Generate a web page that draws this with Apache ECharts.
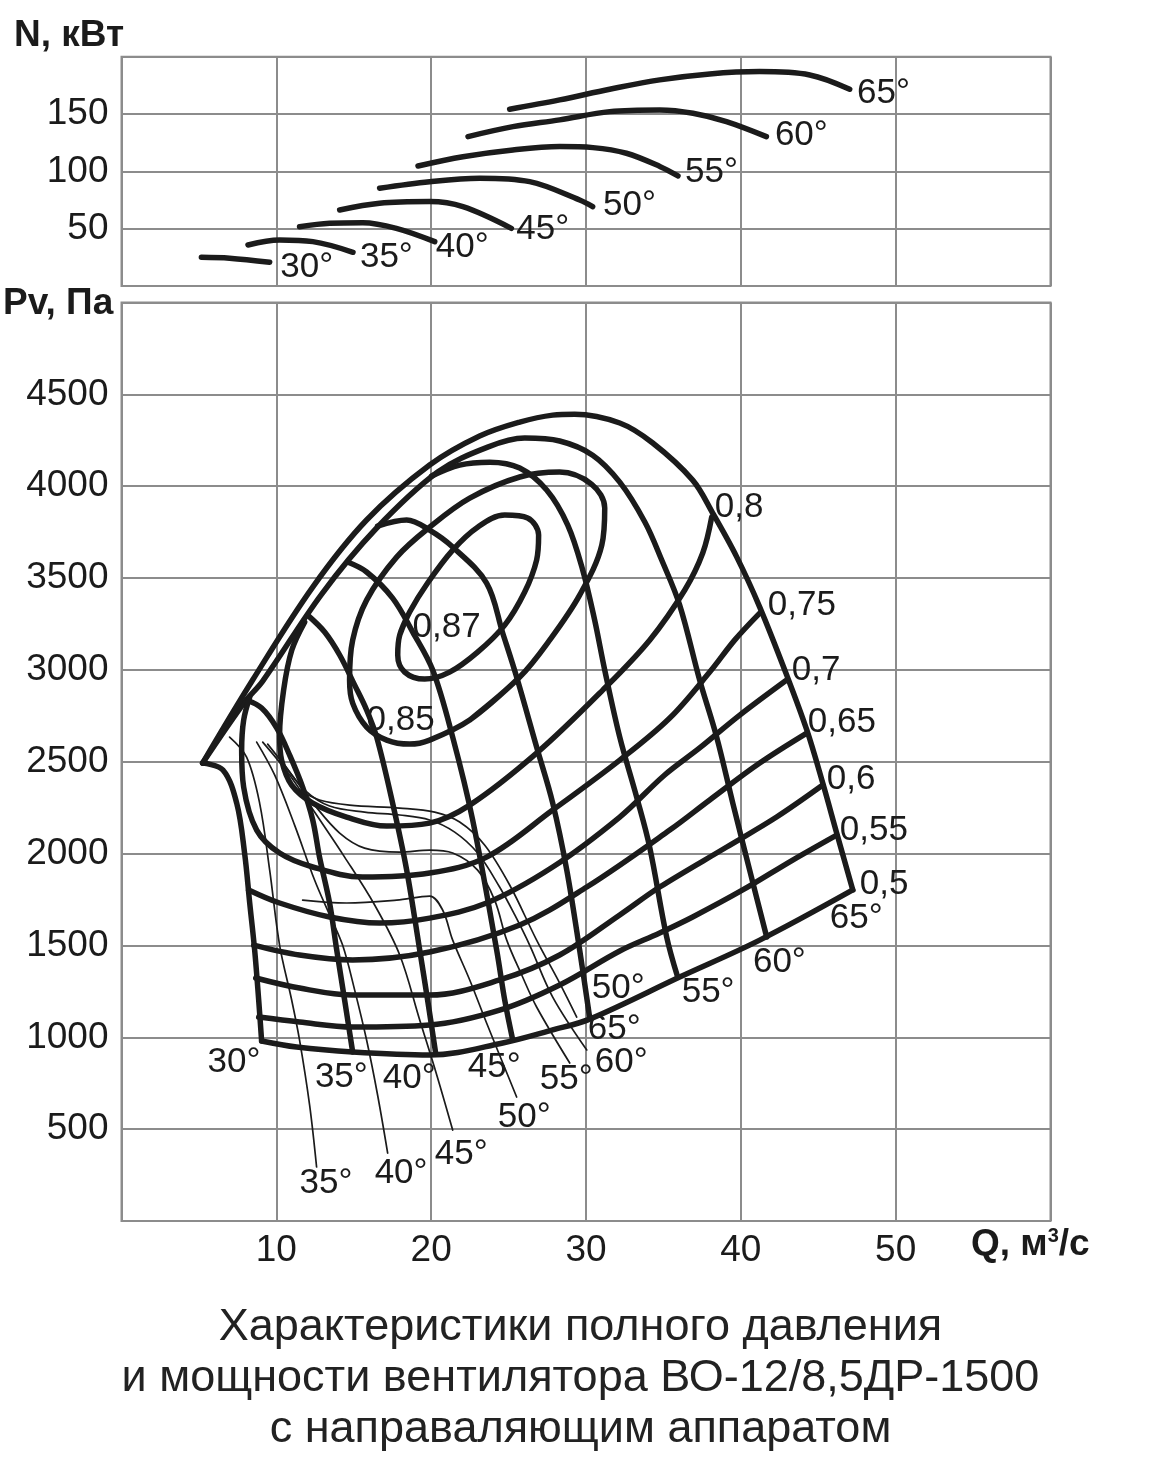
<!DOCTYPE html>
<html><head><meta charset="utf-8">
<script src="https://cdn.jsdelivr.net/npm/echarts@6/dist/echarts.min.js"></script>
<style>html,body{margin:0;padding:0;background:#fff}#c{width:1161px;height:1484px}</style>
</head><body><div id="c"></div>
<script>
// ---- axes ----
const qRange = [0, 60];
const nRange = [0, 200];
const pRange = [0, 5000];
const titleLines = ['Характеристики полного давления', 'и мощности вентилятора ВО-12/8,5ДР-1500', 'с направаляющим аппаратом'];

// ---- power curves N(Q), kW, by blade angle ----
const pow30 = [[5.16,25.0],[6.98,24.2],[9.57,20.7]];
const pow35 = [[8.17,35.8],[10.21,40.1],[12.36,38.7],[14.95,29.4]];
const pow40 = [[11.5,51.7],[13.44,54.7],[15.59,55.2],[17.75,50.3],[20.23,38.7]];
const pow45 = [[14.09,66.3],[16.67,72.2],[19.9,73.6],[22.05,69.2],[25.18,50.3]];
const pow50 = [[16.67,85.3],[19.9,91.0],[23.13,94.0],[26.36,91.0],[29.59,75.0],[30.43,69.2]];
const pow55 = [[19.15,104.7],[22.05,112.8],[25.28,118.7],[28.3,121.6],[30.45,120.7],[32.61,115.8],[34.8,104.1],[35.94,96.0]];
const pow60 = [[22.38,130.3],[25.28,139.0],[28.3,144.9],[31.53,152.1],[34.76,153.6],[36.91,150.7],[39.07,143.4],[41.65,130.3]];
const pow65 = [[25.07,154.2],[28.3,162.3],[31.53,171.6],[34.76,179.8],[37.99,185.0],[41.2,187.0],[44.45,184.1],[47.03,171.6]];
const powLabels = [['30°',10.25,16.6],['35°',15.4,25.0],['40°',20.3,34.0],['45°',25.5,49.7],['50°',31.1,70.7],['55°',36.4,99.5],['60°',42.2,131.8],['65°',47.5,168.4]];

// ---- total pressure curves Pv(Q), Pa, by blade angle ----
const pres30 = [[5.24,2493],[6.55,2455],[7.44,2275],[7.95,2003],[8.28,1731],[8.6,1475],[8.86,1203],[9.05,980]];
const pres35 = [[8.08,2836],[9.05,2792],[10.03,2683],[10.86,2536],[11.7,2362],[12.35,2183],[12.79,1981],[13.44,1731],[13.9,1475],[14.41,1203],[14.93,920]];
const pres40 = [[12.02,3298],[13.12,3206],[14.09,3081],[15.06,2917],[15.83,2782],[16.48,2634],[17.51,2275],[18.42,1910],[19.26,1475],[19.77,1203],[20.29,914]];
const pres45 = [[14.6,3587],[15.83,3533],[17.51,3391],[18.81,3206],[20.1,2999],[21.39,2634],[22.68,2183],[24.23,1475],[24.75,1203],[25.27,985]];
const pres50 = [[16.54,3783],[18.42,3816],[19.9,3761],[21.39,3669],[23.58,3473],[24.62,3201],[25.52,2961],[26.81,2580],[27.85,2275],[28.76,1910],[29.59,1475],[30.24,1105]];
const pres55 = [[20.03,4055],[21.84,4115],[23.78,4131],[25.72,4099],[27.46,3979],[28.82,3788],[29.79,3543],[30.56,3271],[31.21,2999],[32.18,2634],[33.27,2308],[34.11,2036],[35.21,1546],[35.92,1328]];
const pres60 = [[5.24,2493],[7.95,2825],[9.12,2939],[12.93,3413],[16.42,3767],[20.42,4077],[23.65,4213],[26.04,4262],[28.3,4246],[30.43,4169],[32.18,4022],[33.8,3805],[34.89,3598],[36.05,3353],[37.34,2945],[38.44,2634],[39.48,2275],[40.57,1910],[41.67,1546]];
const pres65 = [[5.24,2493],[8.47,2945],[12.35,3451],[15.83,3816],[19.9,4115],[23.13,4273],[25.72,4349],[27.85,4387],[29.27,4392],[32.18,4344],[34.31,4235],[36.89,4033],[38.18,3854],[39.74,3614],[41.22,3342],[42.96,2972],[44.26,2673],[45.29,2384],[46.19,2112],[47.23,1802]];

// ---- thin pressure curves (stall branch), by blade angle ----
const thin35 = [[6.98,2634],[8.08,2525],[8.92,2275],[9.57,1910],[10.21,1502],[10.99,1203],[11.5,985],[12.15,631],[12.6,294]];
const thin40 = [[8.73,2607],[9.89,2428],[11.18,2155],[12.47,1856],[13.44,1666],[14.28,1502],[15.06,1257],[15.83,985],[16.54,686],[17.19,370]];
const thin45 = [[9.12,2607],[10.86,2428],[12.47,2226],[14.41,1981],[16.35,1720],[17.97,1448],[19.26,1094],[20.36,795],[21.39,495]];
const thin50 = [[11.7,1747],[14.54,1731],[17.77,1747],[19.9,1769],[20.74,1693],[21.39,1529],[22.49,1312],[23.58,1078],[25.52,675]];
const thin55 = [[9.44,2596],[10.86,2444],[12.47,2264],[14.09,2112],[15.7,2030],[17.97,2008],[19.9,2019],[21.39,2003],[23.0,1910],[24.1,1747],[24.88,1529],[25.85,1339],[26.81,1165],[28.95,860]];
const thin60 = [[10.54,2482],[11.83,2346],[13.44,2259],[15.7,2226],[17.97,2210],[19.9,2183],[21.52,2117],[23.0,2003],[24.42,1818],[25.4,1666],[26.36,1502],[27.85,1219],[30.05,931]];
const thin65 = [[11.5,2346],[12.79,2292],[14.73,2264],[17.97,2248],[20.23,2226],[21.84,2172],[23.45,2047],[25.07,1829],[26.81,1529],[28.3,1295],[29.4,1110]];

// ---- efficiency lines ----
const eff50 = [[9.05,980],[11.31,947],[14.93,920],[19.9,904],[24.62,969],[27.85,1040],[30.24,1099],[36.05,1328],[41.22,1529],[47.23,1802]];
const eff55 = [[8.86,1110],[11.5,1083],[14.93,1056],[19.9,1067],[24.42,1148],[28.3,1285],[32.18,1470],[34.76,1568],[36.89,1655],[40.12,1802],[43.35,1965],[46.19,2101]];
const eff60 = [[8.67,1323],[11.5,1268],[14.93,1230],[19.9,1230],[24.42,1312],[28.3,1448],[32.18,1666],[34.76,1818],[39.09,2036],[42.31,2199],[45.29,2373]];
const eff65 = [[8.54,1502],[11.5,1448],[14.93,1421],[19.9,1464],[25.72,1611],[30.05,1818],[35.41,2128],[37.99,2292],[41.22,2493],[44.26,2656]];
const eff70 = [[8.21,1802],[10.21,1731],[13.44,1655],[16.67,1622],[19.9,1649],[23.58,1731],[27.85,1927],[32.18,2199],[35.08,2428],[37.34,2575],[39.93,2754],[42.96,2945]];
const eff75 = [[8.28,2852],[7.89,2727],[7.76,2564],[7.89,2362],[8.73,2128],[10.21,2003],[12.35,1927],[15.57,1872],[19.9,1894],[23.58,1981],[27.85,2237],[32.18,2509],[35.41,2738],[37.99,2988],[39.6,3162],[41.22,3309]];
const eff80 = [[11.83,3260],[11.0,3108],[10.47,2890],[10.21,2645],[10.34,2509],[10.99,2373],[12.35,2275],[14.54,2199],[17.13,2150],[19.9,2166],[22.49,2264],[26.81,2547],[31.08,2890],[34.11,3162],[36.38,3435],[37.54,3636],[38.12,3832]];
const eff85 = [[25.72,2961],[22.49,2727],[19.9,2618],[18.61,2596],[17.13,2618],[15.83,2689],[14.93,2819],[14.73,2945],[14.93,3162],[15.83,3380],[17.77,3614],[19.9,3777],[22.49,3935],[25.72,4050],[28.3,4077],[30.37,4010],[31.21,3881],[31.02,3679],[29.59,3407],[27.65,3162],[25.72,2961],[22.49,2727]];
const eff87 = [[17.97,3190],[18.61,3315],[19.77,3473],[21.39,3652],[23.0,3777],[24.75,3843],[26.23,3827],[26.94,3734],[26.81,3598],[26.04,3424],[24.75,3244],[23.0,3097],[21.19,2988],[19.58,2950],[18.29,2988],[17.84,3081],[17.97,3190],[18.61,3315]];

const effLabels = [['0,87',18.8,3233],['0,85',15.83,2727],['0,8',38.32,3886],['0,75',41.74,3353],['0,7',43.29,2999],['0,65',44.32,2716],['0,6',45.55,2406],['0,55',46.39,2128],['0,5',47.68,1834]];
const angLabels = [['30°',5.56,865],['35°',12.49,784],['40°',16.87,778],['45°',22.36,838],['50°',30.37,1268],['55°',36.18,1246],['60°',40.78,1410],['65°',45.74,1649]];
const thinLabels = [['65°',30.11,1045],['60°',30.57,865],['55°',27.01,773],['50°',24.3,566],['45°',20.23,365],['40°',16.35,261],['35°',11.5,207]];

const LINE = '#1b1b1b';
const GRID = '#8c8c8c';
const FONT = "'Liberation Sans', Arial, sans-serif";

function curve(data, gi, w) {
  return {type:'line', xAxisIndex:gi, yAxisIndex:gi, data:data, smooth:0.35, showSymbol:false, symbol:'none',
    lineStyle:{color:LINE, width:w, cap:'round', join:'round'}, silent:true, z:3};
}
function labels(arr, gi) {
  return {type:'scatter', xAxisIndex:gi, yAxisIndex:gi, symbolSize:0, silent:true, z:5,
    itemStyle:{opacity:1, color:LINE},
    data: arr.map(a => ({name:a[0], value:[a[1], a[2]]})),
    label:{show:true, opacity:1, position:'right', distance:0, formatter:'{b}', color:LINE, fontFamily:FONT, fontSize:35}};
}

const chart = echarts.init(document.getElementById('c'), null, {renderer:'canvas'});
const axisCommon = {
  axisLine:{show:false}, axisTick:{show:false},
  splitLine:{show:true, lineStyle:{color:GRID, width:2}}
};
const tickFont = {color:LINE, fontFamily:FONT, fontSize:37};
const thick = 5.5, thin = 1.7;
chart.setOption({
  animation:false,
  backgroundColor:'#fff',
  grid:[
    {left:121.5, top:56.7, width:929, height:229.3, show:true, borderColor:GRID, borderWidth:2},
    {left:121.5, top:302.5, width:929, height:918.5, show:true, borderColor:GRID, borderWidth:2}
  ],
  xAxis:[
    Object.assign({type:'value', gridIndex:0, min:qRange[0], max:qRange[1], interval:10, axisLabel:{show:false}}, axisCommon),
    Object.assign({type:'value', gridIndex:1, min:qRange[0], max:qRange[1], interval:10,
      axisLabel:Object.assign({show:true, margin:11, formatter: v => (v>0 && v<60) ? String(v) : ''}, tickFont)}, axisCommon)
  ],
  yAxis:[
    Object.assign({type:'value', gridIndex:0, min:nRange[0], max:nRange[1], interval:50,
      axisLabel:Object.assign({show:true, margin:13, formatter: v => (v>0 && v<200) ? String(v) : ''}, tickFont)}, axisCommon),
    Object.assign({type:'value', gridIndex:1, min:pRange[0], max:pRange[1], interval:500,
      axisLabel:Object.assign({show:true, margin:13, formatter: v => (v>0 && v<5000) ? String(v) : ''}, tickFont)}, axisCommon)
  ],
  graphic:[
    {type:'text', left:14, top:17, style:{text:'N, кВт', font:"bold 37px 'Liberation Sans', Arial", fill:LINE}},
    {type:'text', left:3, top:285, style:{text:'Pv, Па', font:"bold 37px 'Liberation Sans', Arial", fill:LINE}},
    {type:'text', left:971, top:1226, style:{rich:{a:{font:"bold 37px 'Liberation Sans', Arial", fill:LINE}, s:{font:"bold 20px 'Liberation Sans', Arial", fill:LINE, verticalAlign:'top', padding:[0,0,16,0]}}, text:'{a|Q, м}{s|3}{a|/с}'}},
    {type:'text', left:'center', top:1302, style:{text:titleLines.join('\n'), font:"45px 'Liberation Sans', Arial", fill:'#222', textAlign:'center', lineHeight:51}}
  ],
  series:[
    curve(pow30,0,thick), curve(pow35,0,thick), curve(pow40,0,thick), curve(pow45,0,thick),
    curve(pow50,0,thick), curve(pow55,0,thick), curve(pow60,0,thick), curve(pow65,0,thick),
    labels(powLabels,0),
    curve(pres30,1,thick), curve(pres35,1,thick), curve(pres40,1,thick), curve(pres45,1,thick),
    curve(pres50,1,thick), curve(pres55,1,thick), curve(pres60,1,thick), curve(pres65,1,thick),
    curve(eff50,1,thick), curve(eff55,1,thick), curve(eff60,1,thick), curve(eff65,1,thick),
    curve(eff70,1,thick), curve(eff75,1,thick), curve(eff80,1,thick), curve(eff85,1,thick), curve(eff87,1,thick),
    curve(thin35,1,thin), curve(thin40,1,thin), curve(thin45,1,thin), curve(thin50,1,thin),
    curve(thin55,1,thin), curve(thin60,1,thin), curve(thin65,1,thin),
    labels(effLabels,1), labels(angLabels,1), labels(thinLabels,1)
  ]
});
</script>
</body></html>
